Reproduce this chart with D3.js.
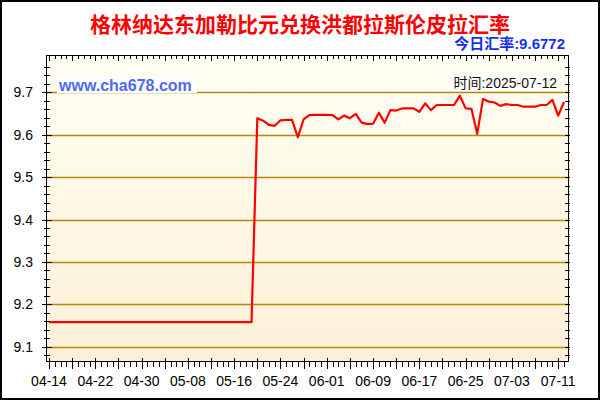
<!DOCTYPE html>
<html>
<head>
<meta charset="utf-8">
<script src="https://cdn.jsdelivr.net/npm/d3@7"></script>
<style>
html,body{margin:0;padding:0;background:#fff;}
svg{display:block;}
</style>
</head>
<body>
<svg id="chart" width="600" height="400"></svg>
<script>
// ---- data ----
const titleText = "格林纳达东加勒比元兑换洪都拉斯伦皮拉汇率";
const todayRateLabel = "今日汇率:9.6772";
const timeLabel = "时间:2025-07-12";
const siteLabel = "www.cha678.com";
const startDate = "2025-04-14";
const endDate = "2025-07-12";
const rates = [
  9.158, 9.158, 9.158, 9.158, 9.158, 9.158, 9.158, 9.158, 9.158, 9.158,
  9.158, 9.158, 9.158, 9.158, 9.158, 9.158, 9.158, 9.158, 9.158, 9.158,
  9.158, 9.158, 9.158, 9.158, 9.158, 9.158, 9.158, 9.158, 9.158, 9.158,
  9.158, 9.158, 9.158, 9.158, 9.158, 9.158,
  9.639, 9.633, 9.623, 9.621, 9.634, 9.635, 9.635, 9.594, 9.636, 9.646,
  9.647, 9.647, 9.647, 9.646, 9.636, 9.645, 9.639, 9.649, 9.629, 9.625,
  9.626, 9.652, 9.628, 9.658, 9.657, 9.662, 9.662, 9.662, 9.654, 9.674,
  9.658, 9.670, 9.670, 9.670, 9.670, 9.692, 9.662, 9.661, 9.602, 9.684,
  9.678, 9.676, 9.668, 9.672, 9.670, 9.670, 9.666, 9.666, 9.666, 9.670,
  9.670, 9.682, 9.645, 9.6772
];
const xTickLabels = ["04-14","04-22","04-30","05-08","05-16","05-24","06-01","06-09","06-17","06-25","07-03","07-11"];
const yTickValues = [9.1, 9.2, 9.3, 9.4, 9.5, 9.6, 9.7];

// ---- layout ----
const svg = d3.select("#chart");
const plot = {left: 46.5, right: 568.5, top: 55.5, bottom: 361.5};
const parse = d3.timeParse("%Y-%m-%d");
const fmt = d3.timeFormat("%m-%d");
const dates = d3.timeDay.range(parse(startDate), d3.timeDay.offset(parse(endDate), 1));
const data = dates.map((d, i) => ({date: d, value: rates[i]}));

const x = d3.scaleTime().domain([parse(startDate), parse(endDate)]).range([49, 564]);
const y = d3.scaleLinear().domain([9.0651, 9.7868]).range([plot.bottom, plot.top]);

// gradient
const defs = svg.append("defs");
const grad = defs.append("linearGradient").attr("id", "bg").attr("x1", 0).attr("y1", 0).attr("x2", 0).attr("y2", 1);
grad.append("stop").attr("offset", "0%").attr("stop-color", "#FFFFF2");
grad.append("stop").attr("offset", "100%").attr("stop-color", "#FCF0D8");

svg.append("rect").attr("x", 0).attr("y", 0).attr("width", 600).attr("height", 400).attr("fill", "#fff");

svg.append("rect")
  .attr("x", plot.left).attr("y", plot.top)
  .attr("width", plot.right - plot.left).attr("height", plot.bottom - plot.top)
  .attr("fill", "url(#bg)");

// gridlines
svg.append("g").selectAll("line").data(yTickValues).join("line")
  .attr("x1", plot.left).attr("x2", plot.right)
  .attr("y1", d => Math.round(y(d)) + 0.5).attr("y2", d => Math.round(y(d)) + 0.5)
  .attr("stroke", "#B8860B").attr("stroke-width", 1.3);

// watermark labels with white boxes
svg.append("rect").attr("x", 57).attr("y", 77).attr("width", 140).attr("height", 16).attr("fill", "#fff");
svg.append("text").attr("x", 59).attr("y", 90.5)
  .attr("font-family", "Liberation Sans, Arial, sans-serif").attr("font-weight", "bold")
  .attr("font-size", 16).attr("fill", "#4F6AF0").text(siteLabel);

svg.append("rect").attr("x", 450).attr("y", 75).attr("width", 109).attr("height", 15).attr("fill", "#fff");
svg.append("text").attr("x", 557).attr("y", 88).attr("text-anchor", "end")
  .attr("font-family", "Liberation Sans, Noto Sans CJK SC, sans-serif")
  .attr("font-size", 14).attr("fill", "#111").text(timeLabel);

// line
const line = d3.line().x(d => x(d.date)).y(d => y(d.value));
svg.append("path").datum(data)
  .attr("d", line).attr("fill", "none")
  .attr("stroke", "#FF0000").attr("stroke-width", 2.2).attr("stroke-linejoin", "round");

// frame
const frame = svg.append("g").attr("stroke", "#000").attr("stroke-width", 1).attr("shape-rendering", "crispEdges");
frame.append("rect").attr("x", plot.left).attr("y", plot.top)
  .attr("width", plot.right - plot.left).attr("height", plot.bottom - plot.top)
  .attr("fill", "none");

// bottom axis ticks (daily minor, every 4 days major)
frame.selectAll("line.xt").data(dates).join("line").attr("class", "xt")
  .attr("x1", d => Math.round(x(d)) + 0.5).attr("x2", d => Math.round(x(d)) + 0.5)
  .attr("y1", (d, i) => i % 4 === 0 ? plot.bottom - 4 : plot.bottom)
  .attr("y2", (d, i) => i % 4 === 0 ? plot.bottom + 7 : plot.bottom + 5);
// top axis ticks
frame.selectAll("line.xtt").data(dates).join("line").attr("class", "xtt")
  .attr("x1", d => Math.round(x(d)) + 0.5).attr("x2", d => Math.round(x(d)) + 0.5)
  .attr("y1", plot.top).attr("y2", (d, i) => i % 4 === 0 ? plot.top + 5 : plot.top + 3);

// y ticks (minor every 0.02)
const yMinor = d3.range(9.08, 9.78, 0.02).map(v => +v.toFixed(2));
frame.selectAll("line.ym").data(yMinor).join("line").attr("class", "ym")
  .attr("x1", plot.left - 3).attr("x2", plot.left + 3)
  .attr("y1", d => Math.round(y(d)) + 0.5).attr("y2", d => Math.round(y(d)) + 0.5);
frame.selectAll("line.yM").data(yTickValues).join("line").attr("class", "yM")
  .attr("x1", plot.left - 5).attr("x2", plot.left + 5)
  .attr("y1", d => Math.round(y(d)) + 0.5).attr("y2", d => Math.round(y(d)) + 0.5);
frame.selectAll("line.yr").data(yMinor).join("line").attr("class", "yr")
  .attr("x1", plot.right - 4).attr("x2", plot.right + 1)
  .attr("y1", d => Math.round(y(d)) + 0.5).attr("y2", d => Math.round(y(d)) + 0.5);

// y labels
svg.append("g").selectAll("text").data(yTickValues).join("text")
  .attr("x", 33).attr("y", d => y(d) + 5).attr("text-anchor", "end")
  .attr("font-family", "Liberation Sans, Arial, sans-serif").attr("font-size", 14)
  .attr("fill", "#000").text(d => d.toFixed(1));

// x labels
const labelDates = xTickLabels.map(s => parse("2025-" + s));
svg.append("g").selectAll("text").data(labelDates).join("text")
  .attr("x", d => x(d)).attr("y", 386).attr("text-anchor", "middle")
  .attr("font-family", "Liberation Sans, Arial, sans-serif").attr("font-size", 14)
  .attr("fill", "#000").text(d => fmt(d));

// title
svg.append("text").attr("x", 300).attr("y", 32).attr("text-anchor", "middle")
  .attr("font-family", "Noto Sans CJK SC, sans-serif").attr("font-weight", "bold")
  .attr("font-size", 21).attr("fill", "#FF0000").text(titleText);

svg.append("text").attr("x", 565).attr("y", 49).attr("text-anchor", "end")
  .attr("font-family", "Liberation Sans, Noto Sans CJK SC, sans-serif").attr("font-weight", "bold")
  .attr("font-size", 15).attr("fill", "#1530E8").text(todayRateLabel);

// outer border
svg.append("rect").attr("x", 1).attr("y", 1).attr("width", 598).attr("height", 398)
  .attr("fill", "none").attr("stroke", "#000").attr("stroke-width", 2);
</script>
</body>
</html>
